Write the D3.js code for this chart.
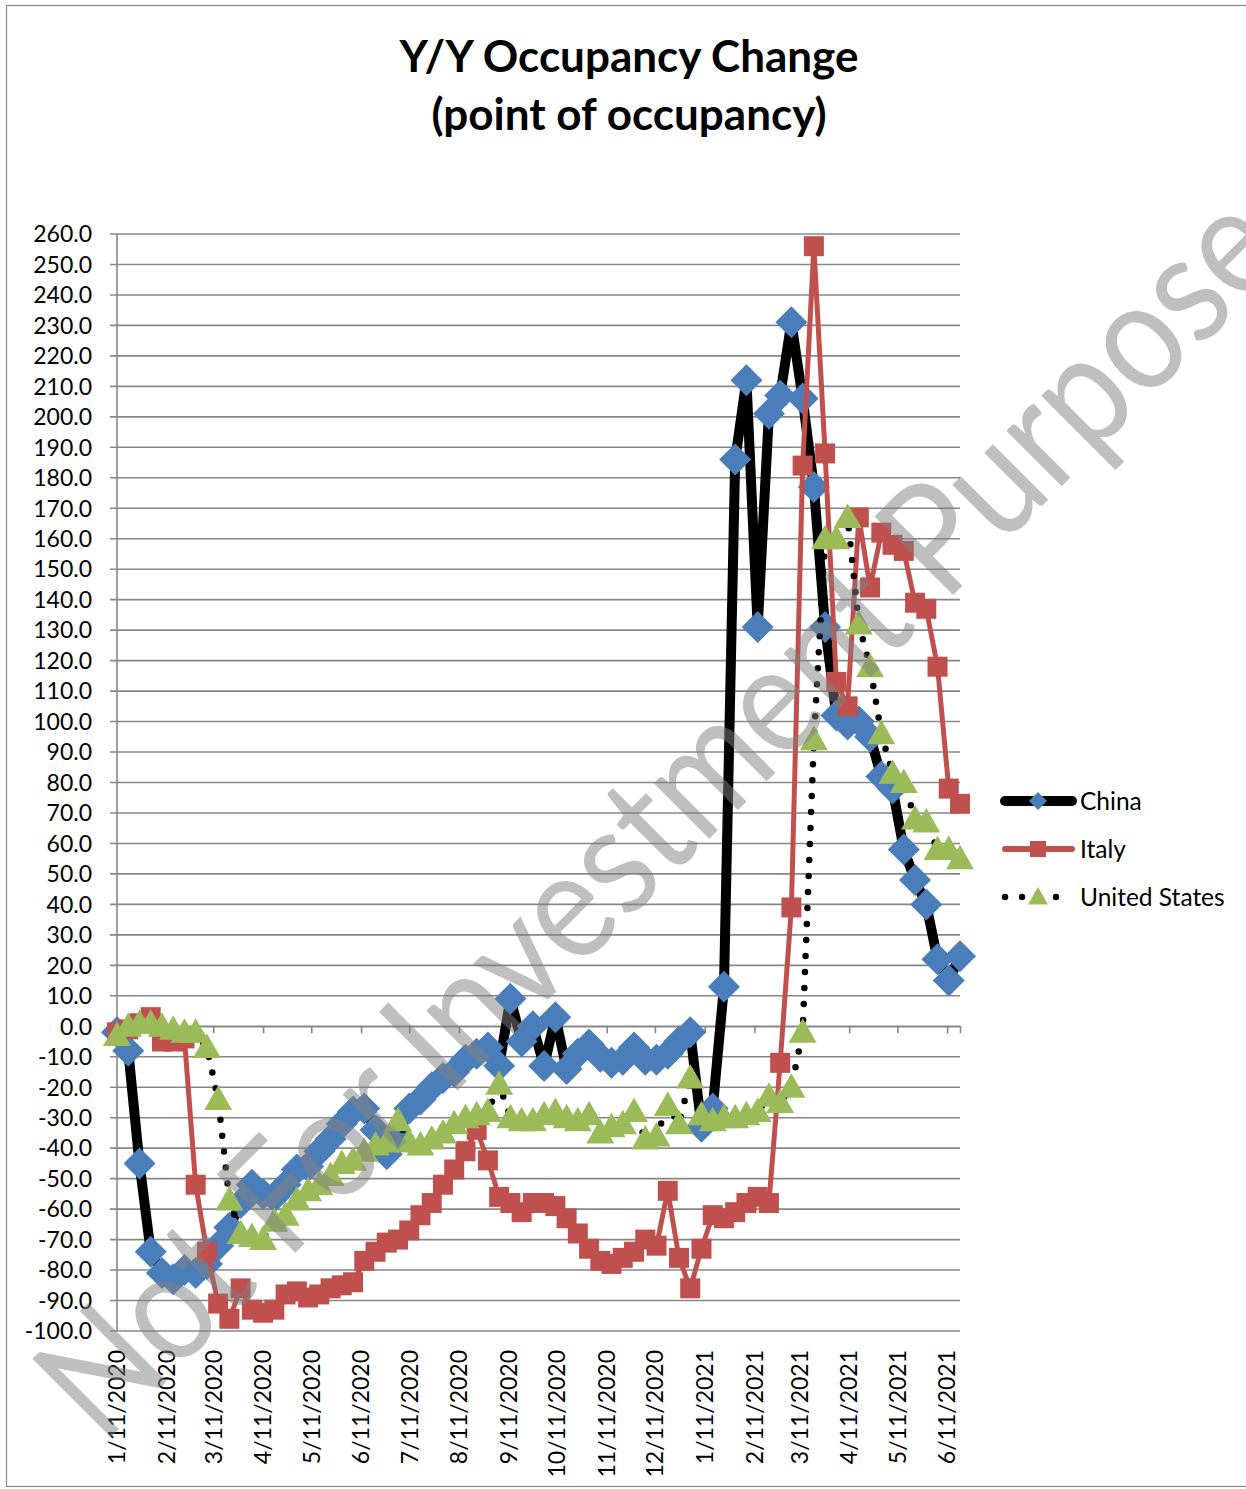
<!DOCTYPE html>
<meta charset="utf-8">
<title>Y/Y Occupancy Change</title>
<style>
  body { margin: 0; background: #fff; }
  text { font-family: Lato, "Noto Sans", sans-serif; fill: #000; }
  .grid line { stroke: #878787; stroke-width: 1.6px; }
</style>
<body>
<script src="https://cdnjs.cloudflare.com/ajax/libs/d3/7.8.5/d3.min.js"></script>
<script>

// weekly points, first week ending 1/11/2020
var startDate = new Date(2020, 0, 11);
var weekCount = 76;

var china = [-2, -8, -45, -74, -81, -83, -80, -81, -78, -72,
  -66, -58, -52, -55, -56, -52, -47, -46, -41, -37,
  -32, -28, -27, -34, -42, -36, -27, -24, -20, -17,
  -15, -11, -9, -7, -13, 9, -5, 0, -13, 3,
  -14, -9, -6, -10, -12, -11, -7, -11, -11, -9,
  -5, -2, -33, -27, 13, 186, 212, 131, 201, 207,
  231, 206, 177, 131, 102, 99, 100, 95, 82, 78,
  58, 48, 40, 22, 15, 23];

var italy = [-2, -1, 1, 3, -5, -5, -4, -52, -74, -91,
  -96, -86, -93, -94, -93, -88, -87, -89, -88, -86,
  -85, -84, -77, -74, -71, -70, -67, -62, -58, -52,
  -47, -41, -34, -44, -56, -58, -61, -58, -58, -59,
  -63, -68, -73, -77, -78, -76, -74, -70, -72, -54,
  -76, -86, -73, -62, -63, -61, -58, -56, -58, -12,
  39, 184, 256, 188, 113, 105, 167, 144, 162, 158,
  156, 139, 137, 118, 78, 73];

var usa = [-3, 0, 1, 1, 0, -1, -2, -2, -7, -24,
  -57, -68, -69, -70, -64, -62, -57, -54, -52, -49,
  -45, -44, -41, -39, -38, -31, -38, -39, -37, -35,
  -32, -30, -29, -28, -19, -30, -31, -31, -29, -28,
  -30, -31, -29, -35, -33, -32, -28, -37, -36, -26,
  -32, -17, -29, -31, -30, -30, -29, -28, -23, -25,
  -20, -2, 94, 160, 160, 167, 132, 118, 96, 83,
  80, 68, 67, 58, 58, 55];

var tickLabels = ['1/11/2020', '2/11/2020', '3/11/2020', '4/11/2020', '5/11/2020', '6/11/2020',
  '7/11/2020', '8/11/2020', '9/11/2020', '10/11/2020', '11/11/2020', '12/11/2020',
  '1/11/2021', '2/11/2021', '3/11/2021', '4/11/2021', '5/11/2021', '6/11/2021'];

var yTicks = d3.range(-100, 261, 10);

var W = 1246, H = 1489;
var svg = d3.select('body').append('svg').attr('width', W).attr('height', H);

// chart frame
svg.append('rect').attr('x', 6.5).attr('y', 5.5).attr('width', W + 10).attr('height', H - 8)
  .attr('fill', 'none').attr('stroke', '#8a8a8a').attr('stroke-width', 1.2);

svg.append('text').attr('x', 629).attr('y', 72).attr('text-anchor', 'middle')
  .style('font-size', '44px').style('font-weight', 'bold').text('Y/Y Occupancy Change');
svg.append('text').attr('x', 629).attr('y', 130).attr('text-anchor', 'middle')
  .style('font-size', '44px').style('font-weight', 'bold').text('(point of occupancy)');

var parse = d3.timeParse('%m/%d/%Y');
var dates = d3.range(weekCount).map(function(i) { return d3.timeDay.offset(startDate, 7 * i); });
var tickDates = tickLabels.map(function(s) { return parse(s); });

var x = d3.scaleTime().domain([dates[0], dates[dates.length - 1]]).range([117, 960]);
var y = d3.scaleLinear().domain([-100, 260]).range([1331, 234]);

// horizontal gridlines + left axis
var grid = svg.append('g').attr('class', 'grid');
grid.selectAll('line').data(yTicks).enter().append('line')
  .attr('x1', 110).attr('x2', 960)
  .attr('y1', function(d) { return y(d); }).attr('y2', function(d) { return y(d); });
grid.append('line').attr('x1', 117).attr('x2', 117).attr('y1', y(260)).attr('y2', y(-100));

var fmt = d3.format('.1f');
svg.append('g').selectAll('text').data(yTicks).enter().append('text')
  .attr('x', 92).attr('y', function(d) { return y(d); }).attr('dy', '0.36em')
  .attr('text-anchor', 'end').style('font-size', '23px')
  .text(function(d) { return fmt(d).replace('\u2212', '-'); });

// x axis sits at zero
var xAxis = svg.append('g').attr('transform', 'translate(0,' + y(0) + ')')
  .call(d3.axisBottom(x).tickValues(tickDates).tickSize(7).tickFormat(''));
xAxis.select('.domain').attr('stroke', '#878787').attr('stroke-width', 1.6);
xAxis.selectAll('.tick line').attr('stroke', '#878787').attr('stroke-width', 1.6);

svg.append('g').selectAll('text').data(tickDates).enter().append('text')
  .attr('transform', function(d) { return 'translate(' + x(d) + ',1350) rotate(-90)'; })
  .attr('dy', '0.36em').attr('text-anchor', 'end').style('font-size', '23px')
  .text(function(d, i) { return tickLabels[i]; });

var line = d3.line().x(function(d, i) { return x(dates[i]); }).y(function(d) { return y(d); });

var series = [
  {name: 'China', values: china, stroke: '#000', width: 10, dash: null, fill: '#4a7ebb', shape: 'diamond', size: 16},
  {name: 'Italy', values: italy, stroke: '#c0504d', width: 5, dash: null, fill: '#c0504d', shape: 'square', size: 10},
  {name: 'United States', values: usa, stroke: '#000', width: 6.5, dash: '0 16', fill: '#9bbb59', shape: 'triangle', size: 14}
];

function marker(shape, r) {
  if (shape === 'diamond') {
    return 'M0,' + (-r) + 'L' + r + ',0L0,' + r + 'L' + (-r) + ',0Z';
  }
  if (shape === 'square') {
    return 'M' + (-r) + ',' + (-r) + 'H' + r + 'V' + r + 'H' + (-r) + 'Z';
  }
  return 'M0,' + (-r) + 'L' + r + ',' + (r * 0.75) + 'L' + (-r) + ',' + (r * 0.75) + 'Z';
}

series.forEach(function(s) {
  var g = svg.append('g');
  g.append('path').datum(s.values).attr('d', line)
    .attr('fill', 'none').attr('stroke', s.stroke).attr('stroke-width', s.width)
    .attr('stroke-linejoin', 'round').attr('stroke-linecap', 'round')
    .attr('stroke-dasharray', s.dash);
  g.selectAll('path.m').data(s.values).enter().append('path').attr('class', 'm')
    .attr('transform', function(d, i) { return 'translate(' + x(dates[i]) + ',' + y(d) + ')'; })
    .attr('d', marker(s.shape, s.size)).attr('fill', s.fill);
});

// legend
var legend = svg.append('g');
var legendMarker = {China: 9, Italy: 8, 'United States': 10};
series.forEach(function(s, i) {
  var ly = 801 + i * 48;
  legend.append('line').attr('x1', 1005).attr('x2', 1072).attr('y1', ly).attr('y2', ly)
    .attr('stroke', s.stroke).attr('stroke-width', s.name === 'Italy' ? 6 : s.width)
    .attr('stroke-linecap', 'round').attr('stroke-dasharray', s.dash ? '0 17' : null);
  legend.append('path').attr('transform', 'translate(1038,' + ly + ')')
    .attr('d', marker(s.shape, legendMarker[s.name])).attr('fill', s.fill);
  legend.append('text').attr('x', 1080).attr('y', ly).attr('dy', '0.36em')
    .style('font-size', '24.5px').text(s.name);
});

// watermark
svg.append('text')
  .attr('transform', 'translate(102,1446) rotate(-45)')
  .attr('textLength', 1740).attr('lengthAdjust', 'spacingAndGlyphs')
  .style('font-size', '155px').style('fill', '#808080').style('opacity', 0.5)
  .text('Not For Investment Purposes');

</script>
</body>
